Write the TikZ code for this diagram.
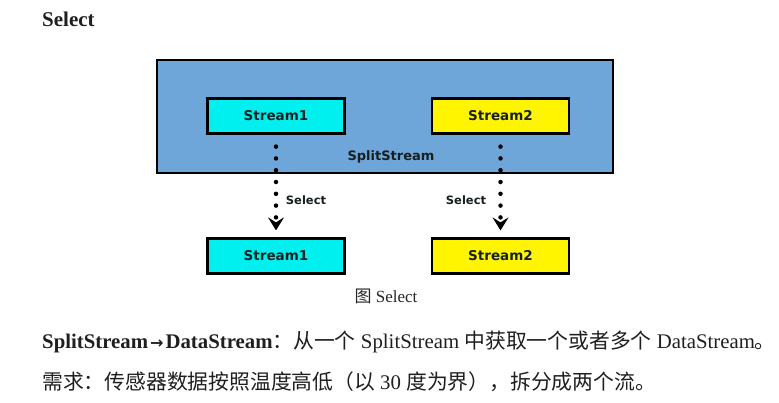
\documentclass[tikz,border=0pt]{standalone}
\usepackage{fontspec}
\setmainfont{Liberation Serif}
\newfontfamily\cjk{Noto Sans CJK SC}
\newfontfamily\diag{DejaVu Sans}
\usetikzlibrary{arrows.meta}
\definecolor{splitblue}{RGB}{111,166,218}
\definecolor{scyan}{RGB}{0,240,240}
\definecolor{syellow}{RGB}{255,245,0}
\definecolor{stext}{RGB}{22,32,32}
\tikzset{
  streambox/.style={draw=black, line width=2.2pt, minimum width=137pt, minimum height=35pt, inner sep=0pt,
    font=\diag\bfseries\fontsize{13.5}{13.5}\selectfont, text=stext},
  splitbox/.style={draw=black, line width=2pt, fill=splitblue, minimum width=456pt, minimum height=113pt, inner sep=0pt},
  lbl/.style={font=\diag\bfseries\fontsize{11.5}{11.5}\selectfont, text=stext, inner sep=0pt},
  dotarrow/.style={line width=4.5pt, line cap=round, dash pattern=on 0pt off 11.8pt, draw=black,
    -{Stealth[length=13pt,width=16pt,inset=5pt]}, shorten >=7pt},
  bodytext/.style={anchor=base west, inner sep=0pt, font=\fontsize{20.8}{20.8}\selectfont, text=black!88}
}
\begin{document}
\begin{tikzpicture}[x=1pt,y=-1pt]
\useasboundingbox (0,0) rectangle (779,402);
\node[anchor=base west, inner sep=0pt, font=\bfseries\fontsize{21}{21}\selectfont, text=black!88] (title) at (42,26) {Select};
\node[splitbox] (split) at (385,116.5) {};
\node[streambox, fill=scyan] (t1) at (276,116) {Stream1};
\node[streambox, fill=syellow] (t2) at (500.5,116) {Stream2};
\node[lbl, font=\diag\bfseries\fontsize{13}{13}\selectfont] (splitlbl) at (391,157) {SplitStream};
\node[streambox, fill=scyan] (b1) at (276,256) {Stream1};
\node[streambox, fill=syellow] (b2) at (500.5,256) {Stream2};
\draw[dotarrow] ([yshift=-12pt]t1.south) -- (b1.north);
\draw[dotarrow] ([yshift=-12pt]t2.south) -- (b2.north);
\node[lbl] (sel1) at (306,200) {Select};
\node[lbl] (sel2) at (466,200) {Select};
\node[inner sep=0pt, font=\fontsize{17}{17}\selectfont, text=black!85] (cap) at (386,296) {{\cjk 图} Select};
\node[bodytext] (line1) at (42,348) {{\bfseries SplitStream\kern2pt{\diag\fontsize{16}{16}\selectfont →}\kern2pt DataStream}{\cjk ：从一个} SplitStream {\cjk 中获取一个或者多个} DataStream{\cjk 。}};
\node[bodytext] (line2) at (42,389) {{\cjk 需求：传感器数据按照温度高低（以} 30 {\cjk 度为界），拆分成两个流。}};
\end{tikzpicture}
\end{document}
